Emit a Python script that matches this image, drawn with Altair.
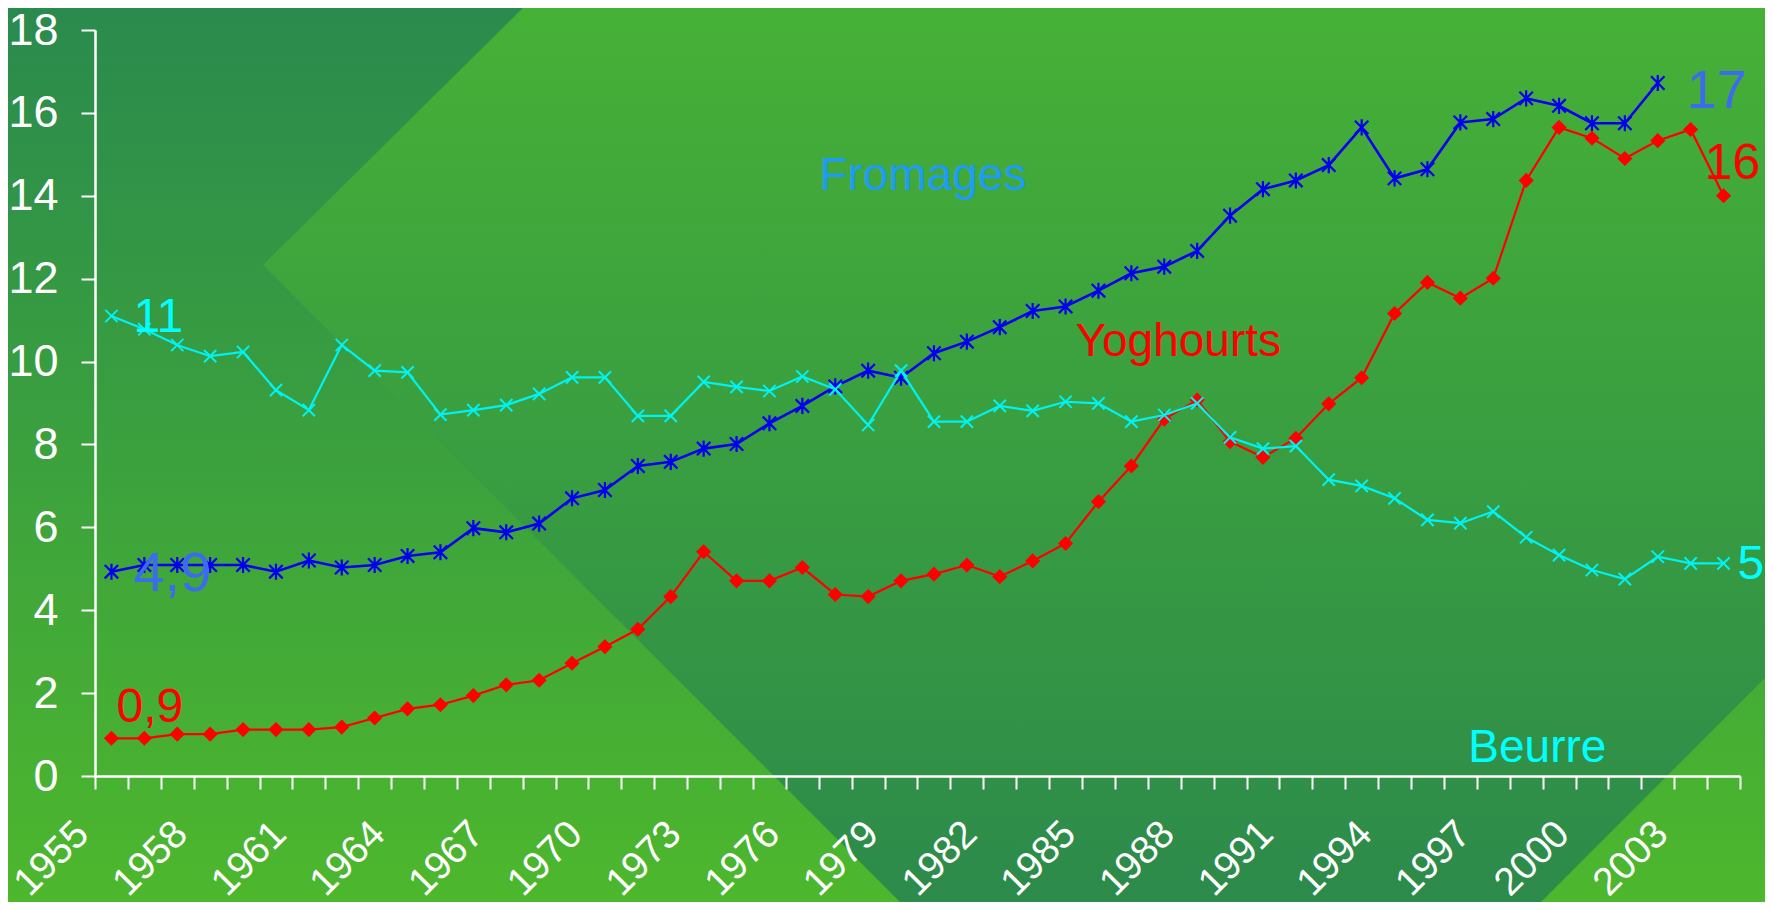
import altair as alt
import pandas as pd

# ---------------- data ----------------
years = list(range(1955, 2005))
fromages = [4.93, 5.09, 5.09, 5.09, 5.09, 4.93, 5.2, 5.03, 5.09, 5.31, 5.4, 5.98, 5.88, 6.09,
            6.70, 6.9, 7.48, 7.58, 7.9, 8.01, 8.51, 8.93, 9.4, 9.78, 9.61, 10.2, 10.48, 10.83,
            11.22, 11.33, 11.71, 12.13,
            12.29, 12.67, 13.52, 14.16, 14.37, 14.74, 15.65, 14.42, 14.64, 15.77, 15.85, 16.35,
            16.17, 15.75, 15.75, 16.72]
yoghourts = [0.91, 0.91, 1.01, 1.01, 1.12, 1.12, 1.12, 1.18, 1.4, 1.62, 1.72, 1.94, 2.2, 2.31, 2.72,
             3.12, 3.54, 4.33, 5.41, 4.71, 4.71, 5.03, 4.38, 4.33, 4.71, 4.87, 5.09, 4.81, 5.19,
             5.61, 6.62, 7.48,
             8.61, 9.07, 8.07, 7.69, 8.15, 8.98, 9.61, 11.16, 11.91, 11.53, 12.01, 14.37, 15.65,
             15.39, 14.9, 15.33, 15.6, 14.0]
beurre = [11.1, 10.78, 10.4, 10.13, 10.23, 9.31, 8.83, 10.4, 9.78, 9.74, 8.72, 8.83, 8.95, 9.22,
          9.62, 9.62, 8.69, 8.69, 9.51, 9.39, 9.29, 9.64, 9.33, 8.47, 9.78, 8.55, 8.55, 8.93,
          8.81, 9.03, 8.99, 8.55,
          8.71, 8.99, 8.17, 7.9, 7.96, 7.15, 7.0, 6.7, 6.18, 6.1, 6.38, 5.76, 5.33, 4.97, 4.75,
          5.29, 5.13, 5.13]
y_ticks = [0, 2, 4, 6, 8, 10, 12, 14, 16, 18]

# annotations (text, anchor year, anchor value)
ann_text = ["Fromages", "Yoghourts", "Beurre", "11", "4,9", "0,9", "17", "16", "5"]
ann_year = [1976, 1984, 1996, 1955, 1955, 1955, 2002, 2004, 2004]
ann_value = [14.14, 10.14, 0.34, 10.71, 4.46, 1.3, 16.12, 14.41, 4.75]

# ---------------- styles ----------------
FONT = "Liberation Sans"
W, H = 1645, 746
PAD = {"left": 87, "top": 22, "right": 25, "bottom": 126}
PLOT_X0, PLOT_Y0 = 95, 30  # plot origin in page pixels

ann_style = [
    dict(color="#1E9BF2", size=46, dx=17),
    dict(color="#FF0000", size=46, dx=10),
    dict(color="#00FFFF", size=46, dx=8),
    dict(color="#00FFFF", size=48, dx=22),
    dict(color="#3D6BF0", size=56, dx=22),
    dict(color="#FF0000", size=48, dx=5),
    dict(color="#3D6BF0", size=54, dx=29),
    dict(color="#FF0000", size=50, dx=-19),
    dict(color="#00FFFF", size=48, dx=14),
]

xscale = alt.Scale(type="band", domain=years, paddingInner=0, paddingOuter=0)
yscale = alt.Scale(domain=[0, 18], nice=False, zero=True)

xaxis = alt.Axis(
    title=None, tickBand="extent", labelAngle=-45, labelAlign="right", labelBaseline="top",
    labelExpr="(datum.value - 1955) % 3 == 0 ? datum.label : ''",
    labelOverlap=False, labelFont=FONT, labelFontSize=39, labelColor="white",
    labelPadding=25, labelOffset=-43, tickSize=13, tickWidth=2, tickColor="white",
    domainColor="white", domainWidth=2.5, grid=False, labelBound=False, labelFlush=False,
    zindex=2,
)
yaxis = alt.Axis(
    title=None, values=y_ticks, labelFont=FONT, labelFontSize=45, labelColor="white",
    labelPadding=23, tickSize=14, tickWidth=2, tickColor="white", domainColor="white",
    domainWidth=2.5, grid=False, zindex=2,
)

# ---------------- decoration (background shapes in page pixels) ----------------
deco_x = alt.Scale(domain=[0, 1773], range=[-PLOT_X0, 1773 - PLOT_X0], nice=False, zero=False)
deco_y = alt.Scale(domain=[0, 910], range=[-PLOT_Y0, 910 - PLOT_Y0], nice=False, zero=False)

bg_grad = alt.LinearGradient(
    gradient="linear", x1=0, x2=0, y1=0, y2=1,
    stops=[alt.GradientStop(color="#2A8A4E", offset=0),
           alt.GradientStop(color="#4DB82D", offset=1)],
)
chev_grad = alt.LinearGradient(
    gradient="linear", x1=0, x2=0, y1=0, y2=1,
    stops=[alt.GradientStop(color="#46B136", offset=0),
           alt.GradientStop(color="#2C8A4B", offset=1)],
)

bg = alt.Chart(pd.DataFrame({"k": [0]})).mark_rect(fill=bg_grad, clip=False).encode(
    x=alt.value(-PLOT_X0), x2=alt.value(1773 - PLOT_X0),
    y=alt.value(-PLOT_Y0), y2=alt.value(910 - PLOT_Y0),
)

chev_df = pd.DataFrame({
    "px": [263, 531, 908, 1533, 1773],
    "py": [265, 0, 0, 0, 0],
    "py2": [265, 533, 910, 910, 670],
})
chevron = alt.Chart(chev_df).mark_area(fill=chev_grad, clip=False, interpolate="linear").encode(
    x=alt.X("px:Q", scale=deco_x, axis=None),
    y=alt.Y("py:Q", scale=deco_y, axis=None),
    y2="py2:Q",
)

# ---------------- series ----------------
ASTERISK = "M-1,-1L1,1M-1,1L1,-1M0,-1.2L0,1.2"
XMARK = "M-1,-1L1,1M-1,1L1,-1"

X_ENC = dict(scale=xscale, axis=xaxis, bandPosition=0.5)
Y_ENC = dict(scale=yscale, axis=yaxis)


def series(vals, color, shape, size, filled, lw, pw):
    d = pd.DataFrame({"year": years[:len(vals)], "value": vals})
    base = alt.Chart(d).encode(
        x=alt.X("year:O", **X_ENC),
        y=alt.Y("value:Q", **Y_ENC),
    )
    line = base.mark_line(color=color, strokeWidth=lw)
    if filled:
        pts = base.mark_point(shape=shape, size=size, filled=True, color=color, opacity=1,
                              strokeWidth=0)
    else:
        pts = base.mark_point(shape=shape, size=size, filled=False, color=color, opacity=1,
                              strokeWidth=pw)
    return [line, pts]


layers = []
layers += series(fromages, "#0000EE", ASTERISK, 180, False, 2.6, 2.2)
layers += series(yoghourts, "#FF0000", "diamond", 230, True, 2.2, 0)
layers += series(beurre, "#00F2F2", XMARK, 150, False, 2.2, 2.0)

for t, yr, v, st in zip(ann_text, ann_year, ann_value, ann_style):
    d = pd.DataFrame({"year": [yr], "value": [v], "label": [t]})
    layers.append(
        alt.Chart(d).mark_text(
            align="left", baseline="alphabetic", font=FONT, fontSize=st["size"],
            color=st["color"], dx=st["dx"],
        ).encode(
            x=alt.X("year:O", **X_ENC),
            y=alt.Y("value:Q", **Y_ENC),
            text="label:N",
        )
    )

main = alt.layer(*layers)

chart = alt.layer(bg, chevron, main).resolve_scale(x="independent", y="independent").properties(
    width=W, height=H, padding=PAD,
    autosize=alt.AutoSizeParams(type="none"),
    background="#2E8F47",
).configure_view(stroke=None)

chart.save("out.html", embed_options={"renderer": "svg", "actions": False})
